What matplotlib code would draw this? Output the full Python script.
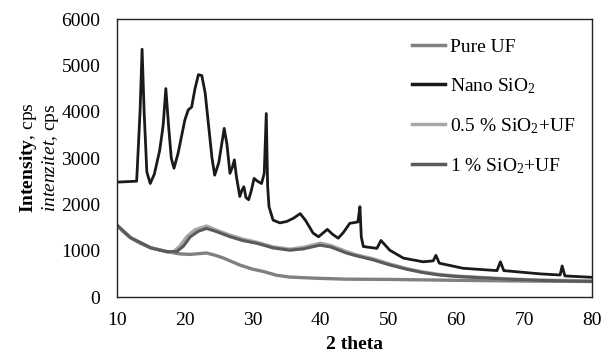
import matplotlib
matplotlib.use("Agg")
import matplotlib.pyplot as plt

plt.rcParams['font.family'] = ['Liberation Serif', 'DejaVu Serif']
plt.rcParams['mathtext.fontset'] = 'custom'
plt.rcParams['mathtext.rm'] = 'Liberation Serif'
plt.rcParams['mathtext.it'] = 'Liberation Serif:italic'
plt.rcParams['mathtext.bf'] = 'Liberation Serif:bold'

# values (2 theta, intensity in cps)
nano_x = [10, 12.9, 13.4, 13.7, 14.0, 14.4, 14.9, 15.5, 16.3, 16.8, 17.2, 17.6, 18.0, 18.4,
          19.0, 20.0, 20.5, 21.0, 21.5, 22.0, 22.5, 23.0, 23.5, 24.0, 24.4, 25.0, 25.8,
          26.2, 26.65, 27.0, 27.3, 27.6, 28.1, 28.4, 28.7, 29.0, 29.4, 29.8, 30.2, 30.7,
          31.3, 31.7, 32.0, 32.2, 32.4, 33.0, 34.0, 35.0, 36.0, 37.0, 37.8, 38.9, 39.7,
          41.0, 41.8, 42.6, 43.4, 44.3, 45.5, 45.8, 46.0, 46.3, 48.3, 48.9, 50.2, 52.2,
          55.1, 56.6, 57.0, 57.5, 61.0, 66.0, 66.5, 67.0, 72.3, 75.3, 75.6, 76.0, 80]
nano_y = [2480, 2500, 4000, 5350, 4000, 2700, 2450, 2650, 3170, 3700, 4500, 3700, 3000, 2780,
          3100, 3820, 4040, 4100, 4500, 4800, 4780, 4400, 3700, 3000, 2630, 2900, 3640,
          3300, 2670, 2800, 2960, 2600, 2170, 2300, 2380, 2150, 2100, 2300, 2560, 2500,
          2450, 2670, 3960, 2400, 1950, 1660, 1600, 1630, 1700, 1800, 1650, 1380, 1300,
          1460, 1350, 1270, 1400, 1590, 1620, 1950, 1300, 1090, 1050, 1220, 1010, 840,
          760, 780, 900, 730, 620, 570, 760, 570, 500, 475, 670, 455, 425]

uf_x = [10, 11, 12, 13.4, 15, 17.3, 19.3, 20.8, 23.2, 24.5, 25.7, 28.1, 30, 31.6, 33.5,
        35.5, 39.4, 43.8, 50, 60, 70, 80]
uf_y = [1550, 1400, 1280, 1160, 1060, 980, 930, 920, 950, 900, 840, 690, 600, 550, 470,
        430, 405, 385, 380, 360, 345, 335]

half_x = [10, 12, 15, 17.3, 18.3, 19.3, 20.3, 21.5, 23.2, 24.5, 26.7, 28.5, 30.6, 33,
          35.5, 37.5, 40, 41.5, 43.8, 45, 47.8, 50, 52.7, 55, 57.5, 60, 62.5, 67.4, 72, 80]
half_y = [1550, 1280, 1060, 980, 970, 1100, 1300, 1450, 1530, 1450, 1330, 1250, 1180, 1080,
          1030, 1070, 1160, 1110, 980, 920, 820, 720, 610, 540, 485, 450, 430, 390, 365, 345]

one_x = [10, 12, 15, 17.3, 18.8, 19.8, 20.8, 22, 23.2, 24.5, 26.7, 28.5, 30.6, 33,
         35.5, 37.5, 39.9, 41.5, 43.8, 45, 47.8, 50, 52.7, 55, 57.5, 60, 62.5, 67.4, 72, 80]
one_y = [1550, 1280, 1060, 980, 980, 1100, 1300, 1420, 1480, 1420, 1300, 1220, 1160, 1060,
         1010, 1040, 1120, 1080, 950, 900, 800, 700, 600, 530, 475, 445, 425, 385, 360, 335]

fig = plt.figure(figsize=(6.08, 3.6), dpi=100)
ax = fig.add_axes([0.1924, 0.175, 0.7813, 0.772])

ax.plot(uf_x, uf_y, color='#808080', lw=2.4, label='Pure UF')
ax.plot(nano_x, nano_y, color='#1a1a1a', lw=2.0, label='Nano SiO$_2$')
ax.plot(half_x, half_y, color='#a8a8a8', lw=2.6, label='0.5 % SiO$_2$+UF')
ax.plot(one_x, one_y, color='#5a5a5a', lw=2.2, label='1 % SiO$_2$+UF')

ax.set_xlim(10, 80)
ax.set_ylim(0, 6000)
ax.set_xticks(range(10, 81, 10))
ax.set_yticks(range(0, 6001, 1000))
ax.tick_params(length=0, labelsize=14)
ax.tick_params(axis='x', pad=11)
ax.tick_params(axis='y', pad=12)
for s in ax.spines.values():
    s.set_color('#222222')
    s.set_linewidth(1.0)

ax.set_xlabel('2 theta', fontsize=14, fontweight='bold', labelpad=5)
ax.set_ylabel(r'$\mathbf{Intensity}$, cps' + '\n' + r'$\mathit{intenzitet}$, cps',
              fontsize=14, labelpad=0, linespacing=1.05)

leg = ax.legend(loc='upper left', bbox_to_anchor=(0.585, 0.995), frameon=False, fontsize=14,
                handlelength=1.7, handletextpad=0.25, labelspacing=1.05)
for h in leg.get_lines():
    h.set_linewidth(2.5)

fig.savefig('out.png', dpi=100)
